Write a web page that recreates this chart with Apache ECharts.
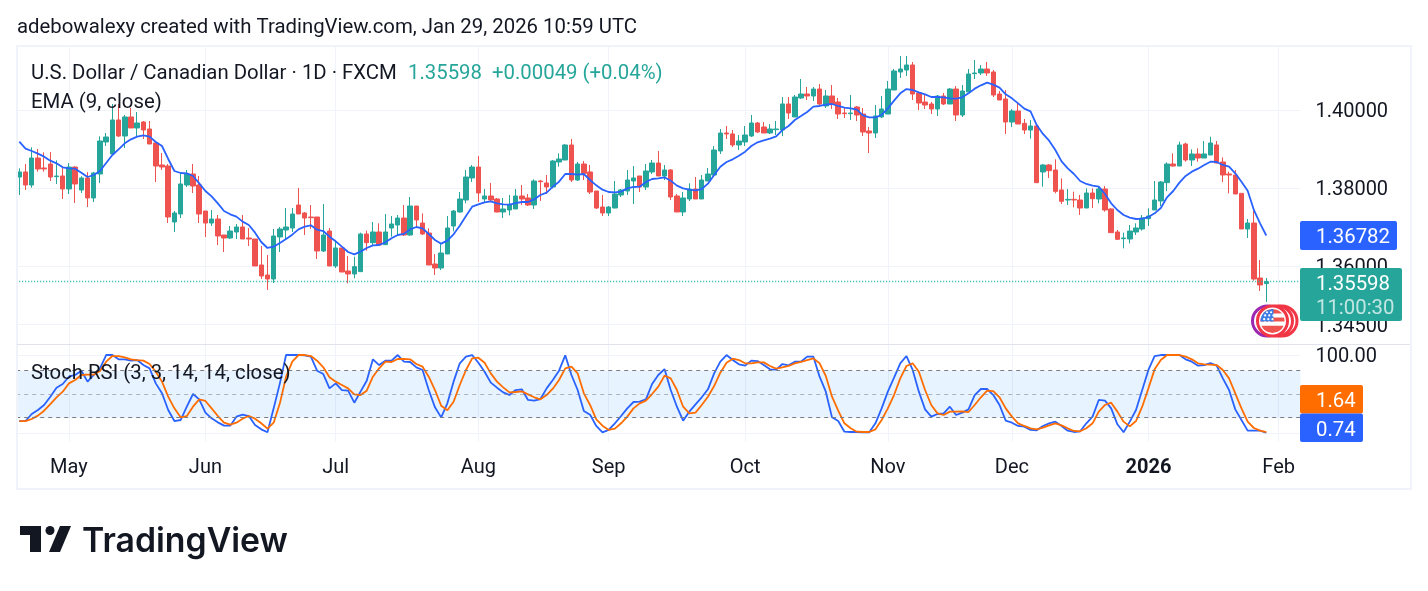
<!DOCTYPE html>
<html>
<head>
<meta charset="utf-8">
<title>USD/CAD daily</title>
<script src="https://cdn.jsdelivr.net/npm/echarts@6/dist/echarts.min.js"></script>
<style>
html,body{margin:0;padding:0;background:#fff}
#chart{width:1428px;height:591px}
</style>
</head>
<body>
<div id="chart"></div>
<script>
// Daily USD/CAD bars: [open, close, low, high]
const ohlc = [
[1.38282,1.38411,1.37820,1.38504],[1.38411,1.38077,1.37949,1.38615],[1.38077,1.38769,1.38008,1.39043],[1.38769,1.38487,1.38419,1.39000],
[1.38513,1.38487,1.38419,1.38914],[1.38615,1.38282,1.38179,1.38923],[1.38291,1.38308,1.38103,1.38709],[1.38308,1.37974,1.37718,1.38555],
[1.37974,1.38538,1.37846,1.38641],[1.38538,1.38103,1.37615,1.38555],[1.37949,1.38257,1.37872,1.38299],[1.38257,1.37744,1.37512,1.38411],
[1.37744,1.38385,1.37641,1.38411],[1.38359,1.39205,1.38129,1.39325],[1.39180,1.39308,1.39077,1.39410],[1.38872,1.39744,1.38846,1.40154],
[1.39744,1.39333,1.39308,1.40154],[1.39333,1.39821,1.39026,1.39872],[1.39821,1.39539,1.39539,1.40051],[1.39539,1.39667,1.39333,1.39949],
[1.39692,1.39487,1.39256,1.39718],[1.39513,1.39128,1.39128,1.39718],[1.39154,1.38564,1.38154,1.39180],[1.38590,1.38538,1.38462,1.38897],
[1.38564,1.37256,1.37102,1.38615],[1.37128,1.37359,1.36872,1.37410],[1.37333,1.38103,1.37230,1.38359],[1.38077,1.38359,1.38026,1.38462],
[1.38359,1.38051,1.37872,1.38615],[1.38077,1.37333,1.37102,1.38308],[1.37410,1.37102,1.36744,1.37410],[1.37102,1.37205,1.37026,1.37436],
[1.37205,1.36769,1.36538,1.37308],[1.36795,1.36718,1.36359,1.36795],[1.36718,1.36897,1.36692,1.37026],[1.36872,1.37000,1.36692,1.37077],
[1.37000,1.36692,1.36692,1.37308],[1.36718,1.36692,1.36513,1.36974],[1.36692,1.36000,1.36000,1.36692],[1.36026,1.35744,1.35667,1.36513],
[1.35769,1.35667,1.35385,1.36282],[1.35667,1.36769,1.35564,1.36949],[1.36744,1.36949,1.36359,1.37000],[1.36923,1.37000,1.36692,1.37487],
[1.36974,1.37333,1.36872,1.37487],[1.37564,1.37333,1.37333,1.38000],[1.37359,1.37230,1.36795,1.37385],[1.37256,1.37239,1.36949,1.37564],
[1.37256,1.36385,1.36179,1.37256],[1.36385,1.36795,1.36359,1.37590],[1.36897,1.36000,1.36000,1.36974],[1.36000,1.36462,1.35949,1.36667],
[1.36462,1.35846,1.35846,1.36462],[1.35872,1.35795,1.35556,1.36256],[1.35795,1.35983,1.35684,1.36239],[1.35855,1.36821,1.35855,1.36855],
[1.36821,1.36598,1.36393,1.36906],[1.36598,1.36872,1.36538,1.37128],[1.36872,1.36538,1.36538,1.37094],[1.36547,1.36872,1.36538,1.37333],
[1.36974,1.37077,1.36752,1.37282],[1.37051,1.37230,1.36795,1.37308],[1.37230,1.36795,1.36769,1.37564],[1.36795,1.37538,1.36769,1.37769],
[1.37538,1.37179,1.36991,1.37538],[1.37102,1.36821,1.36795,1.37350],[1.36846,1.36026,1.36026,1.36966],[1.36051,1.35949,1.35769,1.36308],
[1.35949,1.36333,1.35897,1.36564],[1.36308,1.36974,1.36308,1.37282],[1.37026,1.37410,1.36889,1.37436],[1.37385,1.37718,1.37368,1.37897],
[1.37692,1.38282,1.37607,1.38462],[1.38257,1.38538,1.38154,1.38590],[1.38538,1.37872,1.37641,1.38821],[1.37718,1.37795,1.37641,1.37974],
[1.37795,1.37692,1.37641,1.38129],[1.37718,1.37385,1.37376,1.37744],[1.37385,1.37462,1.37230,1.37744],[1.37436,1.37564,1.37299,1.37821],
[1.37462,1.37795,1.37462,1.37974],[1.37795,1.37718,1.37564,1.38077],[1.37744,1.37564,1.37538,1.37846],[1.37564,1.38179,1.37462,1.38222],
[1.38179,1.38162,1.37667,1.38205],[1.38129,1.38026,1.37846,1.38333],[1.38026,1.38692,1.37991,1.38718],[1.38667,1.38744,1.38547,1.38889],
[1.38718,1.39103,1.38718,1.39128],[1.39103,1.38205,1.38154,1.39256],[1.38205,1.38615,1.38179,1.38667],[1.38615,1.38376,1.38205,1.38692],
[1.38411,1.37897,1.37846,1.38590],[1.37923,1.37487,1.37462,1.37923],[1.37512,1.37359,1.37282,1.37821],[1.37359,1.37512,1.37282,1.37538],
[1.37487,1.37846,1.37479,1.38179],[1.37821,1.37949,1.37769,1.37974],[1.37923,1.38205,1.37821,1.38462],[1.38179,1.38257,1.37590,1.38564],
[1.38308,1.38026,1.37897,1.38308],[1.38026,1.38436,1.37949,1.38615],[1.38411,1.38641,1.38359,1.38718],[1.38641,1.38308,1.38308,1.38949],
[1.38308,1.38462,1.38205,1.38590],[1.38462,1.37769,1.37692,1.38487],[1.37795,1.37385,1.37385,1.37846],[1.37385,1.37744,1.37282,1.37897],
[1.37718,1.37974,1.37667,1.38120],[1.37974,1.37718,1.37718,1.38282],[1.37718,1.38205,1.37718,1.38333],[1.38179,1.38359,1.38179,1.38513],
[1.38333,1.38974,1.38333,1.39077],[1.38949,1.39410,1.38872,1.39513],[1.39410,1.39385,1.39256,1.39590],[1.39385,1.39103,1.39051,1.39487],
[1.39103,1.39205,1.38974,1.39359],[1.39180,1.39359,1.39077,1.39590],[1.39333,1.39667,1.39308,1.39872],[1.39667,1.39436,1.39410,1.39692],
[1.39564,1.39410,1.39410,1.39692],[1.39410,1.39513,1.39385,1.39641],[1.39496,1.39513,1.39359,1.39718],[1.39487,1.40154,1.39333,1.40333],
[1.40154,1.39923,1.39769,1.40333],[1.39821,1.40333,1.39821,1.40385],[1.40308,1.40410,1.40282,1.40795],[1.40410,1.40359,1.40256,1.40590],
[1.40359,1.40538,1.40231,1.40590],[1.40538,1.40154,1.40103,1.40667],[1.40103,1.40359,1.40051,1.40513],[1.40359,1.40154,1.40026,1.40641],
[1.40205,1.39897,1.39769,1.40308],[1.39923,1.39906,1.39795,1.40051],[1.39906,1.39923,1.39744,1.40385],[1.40077,1.39872,1.39718,1.40103],
[1.39897,1.39436,1.39333,1.40051],[1.39462,1.39410,1.38897,1.39564],[1.39410,1.39846,1.39282,1.40128],[1.39821,1.40026,1.39795,1.40359],
[1.39897,1.40538,1.39897,1.40744],[1.40513,1.41000,1.40513,1.41051],[1.40974,1.41051,1.40821,1.41385],[1.41026,1.41154,1.40872,1.41385],
[1.41154,1.40410,1.40256,1.41231],[1.40436,1.40179,1.40000,1.40462],[1.40205,1.40128,1.40026,1.40385],[1.40154,1.40026,1.39897,1.40205],
[1.40026,1.40359,1.39846,1.40385],[1.40359,1.40154,1.40128,1.40436],[1.40154,1.40538,1.40154,1.40564],[1.40538,1.39872,1.39718,1.40615],
[1.39872,1.40487,1.39821,1.40641],[1.40462,1.40923,1.40462,1.41051],[1.40932,1.40949,1.40795,1.41282],[1.40949,1.41051,1.40897,1.41154],
[1.41051,1.40949,1.40872,1.41231],[1.40974,1.40385,1.40333,1.41026],[1.40410,1.40256,1.40256,1.40487],[1.40282,1.39692,1.39385,1.40513],
[1.39692,1.39974,1.39564,1.40026],[1.39974,1.39641,1.39641,1.40179],[1.39658,1.39487,1.39385,1.39769],[1.39487,1.39590,1.39265,1.39744],
[1.39590,1.38137,1.38137,1.39590],[1.38411,1.38590,1.38034,1.38615],[1.38590,1.38445,1.38257,1.38615],[1.38462,1.37914,1.37863,1.38735],
[1.37949,1.37658,1.37590,1.38248],[1.37692,1.37709,1.37564,1.37974],[1.37709,1.37692,1.37504,1.37906],[1.37692,1.37487,1.37308,1.37821],
[1.37487,1.37872,1.37487,1.37991],[1.37872,1.37726,1.37487,1.37991],[1.37718,1.37974,1.37607,1.38051],[1.37974,1.37436,1.37393,1.38051],
[1.37462,1.36855,1.36855,1.37479],[1.36872,1.36684,1.36667,1.36923],[1.36701,1.36718,1.36453,1.36855],[1.36692,1.36897,1.36581,1.37051],
[1.36872,1.36974,1.36795,1.37094],[1.36949,1.37230,1.36906,1.37308],[1.37213,1.37282,1.37026,1.37479],[1.37436,1.37692,1.37436,1.38179],
[1.37667,1.38154,1.37538,1.38179],[1.38137,1.38615,1.37923,1.38658],[1.38615,1.38564,1.38547,1.38889],[1.38564,1.39103,1.38564,1.39188],
[1.39128,1.38718,1.38675,1.39162],[1.38718,1.38872,1.38564,1.38991],[1.38872,1.38769,1.38675,1.39017],[1.38769,1.38872,1.38769,1.39205],
[1.38846,1.39154,1.38846,1.39316],[1.39103,1.38641,1.38632,1.39205],[1.38667,1.38333,1.38154,1.38786],[1.38359,1.38333,1.37863,1.38419],
[1.38333,1.37846,1.37846,1.38462],[1.37863,1.36949,1.36949,1.37863],[1.36949,1.37102,1.36718,1.37205],[1.37102,1.35667,1.35624,1.37410],
[1.35692,1.35513,1.35359,1.36154],[1.35549,1.35598,1.35077,1.35692]
];

// EMA (9, close)
const ema9 = [
1.39188,1.39009,1.38949,1.38880,1.38803,1.38701,1.38632,1.38530,1.38504,1.38496,1.38393,1.38282,1.38333,1.38436,1.38641,1.38846,1.38992,1.39145,
1.39248,1.39316,1.39351,1.39316,1.39180,1.39077,1.38744,1.38436,1.38385,1.38376,1.38308,1.38120,1.37923,1.37786,1.37607,1.37410,1.37325,1.37265,
1.37137,1.37051,1.36855,1.36615,1.36462,1.36496,1.36590,1.36692,1.36803,1.36940,1.37009,1.37043,1.36932,1.36897,1.36752,1.36633,1.36496,1.36359,
1.36299,1.36368,1.36462,1.36530,1.36538,1.36607,1.36710,1.36795,1.36821,1.36940,1.37000,1.36966,1.36821,1.36667,1.36573,1.36650,1.36812,1.37034,
1.37282,1.37521,1.37581,1.37632,1.37658,1.37607,1.37581,1.37573,1.37615,1.37641,1.37641,1.37709,1.37821,1.37880,1.38034,1.38162,1.38359,1.38359,
1.38342,1.38359,1.38205,1.38068,1.37957,1.37897,1.37889,1.37906,1.37991,1.38026,1.38034,1.38154,1.38231,1.38248,1.38274,1.38188,1.38060,1.37991,
1.37957,1.37940,1.37974,1.38111,1.38333,1.38547,1.38667,1.38735,1.38829,1.38932,1.39077,1.39171,1.39222,1.39265,1.39325,1.39487,1.39590,1.39744,
1.39846,1.39949,1.40085,1.40103,1.40137,1.40154,1.40103,1.40060,1.40043,1.40009,1.39863,1.39812,1.39812,1.39872,1.40043,1.40239,1.40427,1.40538,
1.40513,1.40453,1.40402,1.40333,1.40333,1.40325,1.40299,1.40291,1.40325,1.40427,1.40547,1.40633,1.40701,1.40650,1.40573,1.40402,1.40299,1.40171,
1.40034,1.39966,
1.39615,1.39385,1.39214,1.38974,1.38684,1.38504,1.38359,1.38179,1.38103,1.38060,1.38034,1.37846,1.37607,1.37436,1.37308,1.37239,1.37205,1.37214,
1.37256,1.37350,1.37487,1.37761,1.37923,1.38137,1.38308,1.38419,1.38496,1.38590,1.38675,1.38667,1.38590,1.38547,1.38376,1.38162,1.37932,1.37436,
1.37094,1.36782
];

// Stoch RSI (3, 3, 14, 14): %K
const stochK = [
15.7,15.7,24.7,29.8,36.2,46.8,58.3,63.0,72.3,74.5,80.0,66.0,74.5,83.0,100,100,94.5,94.5,92.8,93.6,
87.2,83.0,63.8,51.1,29.8,15.7,17.0,34.0,50.2,43.4,26.4,19.1,14.0,9.8,9.8,21.3,23.8,22.1,10.6,5.1,
1.3,31.9,63.8,100,100,100,99.6,97.9,80.0,75.7,57.4,63.8,55.3,54.5,39.1,53.2,67.2,94.5,87.2,92.8,
92.8,100,91.5,91.1,84.3,80.9,55.3,33.2,20.4,38.3,66.0,89.4,97.9,100,
90.2,78.7,64.7,58.3,52.3,48.9,55.3,56.2,42.6,41.7,43.8,57.4,68.1,80.0,99.6,74.5,55.3,28.5,23.8,9.4,
1.3,4.3,12.8,22.1,31.9,40.0,40.4,43.4,63.0,74.5,82.1,55.3,34.0,16.2,27.7,37.0,46.0,56.2,76.6,91.5,
100,93.6,88.1,86.4,92.8,92.3,87.2,81.7,81.3,88.5,86.8,91.5,91.5,97.9,97.9,72.3,53.2,20.4,15.7,2.1,
1.7,1.7,1.3,1.3,12.8,31.9,53.2,71.1,89.4,98.7,80.9,53.2,30.6,21.3,24.7,25.5,34.0,
23.4,26.4,30.6,48.9,56.6,56.6,48.9,36.2,16.2,13.6,9.4,8.5,4.3,3.8,9.4,12.8,14.9,9.4,3.4,1.7,
2.6,12.8,21.3,42.6,41.7,31.9,11.5,1.3,14.9,29.8,55.3,80.9,98.7,100,100,100,100,94.5,91.5,86.4,
87.2,89.8,86.4,70.2,55.3,30.6,17.0,3.4,3.4,3.4,0.74
];

// Stoch RSI (3, 3, 14, 14): %D
const stochD = [
15.7,15.7,18.3,22.6,28.9,37.4,46.0,53.2,63.8,68.1,74.5,74.9,74.9,79.6,91.5,98.7,98.7,97.0,94.5,93.6,
92.8,88.5,78.7,66.0,46.8,31.9,20.4,22.1,34.0,43.4,41.3,31.9,22.1,13.6,11.1,13.6,18.7,22.1,18.7,12.8,
6.0,13.6,38.3,72.3,91.5,100,100,98.7,92.8,84.3,71.5,66.0,61.7,57.4,49.8,48.9,54.5,72.3,83.0,91.5,
91.1,94.9,94.9,94.5,88.5,85.1,72.3,55.3,35.3,29.4,40.4,61.7,80.9,95.7,
96.6,90.2,76.6,66.0,58.7,52.3,52.8,53.6,49.8,46.0,43.4,48.9,57.0,68.1,83.0,85.1,76.6,51.1,36.2,17.9,
9.8,4.3,6.0,12.8,21.3,31.9,38.3,41.7,50.2,59.6,73.6,70.2,55.3,34.0,25.5,26.4,36.2,46.8,60.4,77.4,
90.2,95.3,93.6,89.4,89.4,90.6,90.6,86.0,82.6,84.3,86.0,89.4,91.1,93.6,95.7,89.4,73.2,46.8,28.9,12.8,
6.4,2.1,1.7,1.7,5.1,17.0,31.9,48.9,70.2,86.0,89.4,78.7,55.3,36.2,25.5,23.4,27.7,
27.7,28.1,27.2,36.2,46.0,54.5,54.0,46.0,31.9,21.3,12.8,9.4,6.4,5.1,7.2,10.2,12.8,10.2,6.4,3.0,
2.6,6.4,12.8,27.7,36.2,39.1,27.7,14.9,8.9,15.7,34.0,57.4,81.7,93.6,100,100,100,97.9,94.5,89.4,
88.1,87.7,87.2,80.9,70.2,51.1,31.9,14.9,6.8,3.4,1.64
];

const priceTicks = [1.40, 1.38, 1.36, 1.345];
const stochTicks = [100, 0];
const stochBands = [80, 50, 20];
const monthTicks = [
  ['2025-05-01', 'May'], ['2025-06-02', 'Jun'], ['2025-07-01', 'Jul'], ['2025-08-01', 'Aug'],
  ['2025-09-01', 'Sep'], ['2025-10-01', 'Oct'], ['2025-11-03', 'Nov'], ['2025-12-01', 'Dec'],
  ['2026-01-02', '2026'], ['2026-02-02', 'Feb']
];
const closedDays = ['2025-12-25', '2026-01-01'];

// Session dates: weekdays only, running a few days past the last bar
const categories = [];
for (let t = Date.UTC(2025, 3, 21); categories.length < 207; t += 86400000) {
  const d = new Date(t), iso = d.toISOString().slice(0, 10), wd = d.getUTCDay();
  if (wd !== 0 && wd !== 6 && !closedDays.includes(iso)) categories.push(iso);
}
const monthLabel = Object.fromEntries(monthTicks);
const isMonth = (i, name) => name in monthLabel;

const UP = '#26a69a', DOWN = '#ef5350', BLUE = '#2962ff', ORANGE = '#ff6d00';
const INK = '#131722', GRIDLINE = '#f0f3fa', FONT = 'Roboto', SIZE = 20.35;

const lastClose = ohlc[ohlc.length - 1][1];
const change = '+0.00049 (+0.04%)';

const textEl = (x, y, text, fill, size, extra) => ({
  type: 'text', x, y, z: 60,
  style: Object.assign({ text, fill, font: `${size || SIZE}px ${FONT}`, textVerticalAlign: 'middle' }, extra || {})
});
const boxEl = (x, y, w, h, fill) => ({
  type: 'rect', z: 55, shape: { x, y, width: w, height: h, r: 2 }, style: { fill }
});
const circleEl = (cx, cy, r, style, z) => ({ type: 'circle', z: z || 56, shape: { cx, cy, r }, style });

// Small round US flag marking an upcoming event on the time axis
function flagBadge(cx, cy, r) {
  const els = [];
  const chord = (yTop, yBot, fill) => {
    const pts = [];
    const half = y => Math.sqrt(Math.max(0, r * r - y * y));
    for (let k = 0; k <= 6; k++) { const y = yTop + (yBot - yTop) * k / 6; pts.push([cx - half(y), cy + y]); }
    for (let k = 6; k >= 0; k--) { const y = yTop + (yBot - yTop) * k / 6; pts.push([cx + half(y), cy + y]); }
    els.push({ type: 'polygon', z: 58, shape: { points: pts }, style: { fill } });
  };
  els.push(circleEl(cx, cy, r, { fill: '#fff' }, 57));
  chord(-r, -r * 0.62, DOWN);
  chord(-r * 0.3, r * 0.05, DOWN);
  chord(r * 0.4, r, DOWN);
  const cantonTop = -r, cantonBottom = r * 0.05, pts = [];
  const seg = 7;
  for (let k = 0; k <= seg; k++) {
    const y = cantonTop + (cantonBottom - cantonTop) * k / seg;
    pts.push([cx - Math.sqrt(Math.max(0, r * r - y * y)), cy + y]);
  }
  pts.push([cx + 1, cy + cantonBottom], [cx + 1, cy - Math.sqrt(r * r - 1)]);
  els.push({ type: 'polygon', z: 59, shape: { points: pts }, style: { fill: '#3d7fe6' } });
  [[-8, -6], [-3.5, -6], [1, -6], [-9, -2], [-4.5, -2], [0, -2], [-8, 1.5], [-3.5, 1.5], [-6, -9.5], [-1.5, -9.5]].forEach(p =>
    els.push({ type: 'circle', z: 60, shape: { cx: cx + p[0] * r / 13, cy: cy + p[1] * r / 13, r: 1.1 }, style: { fill: '#fff' } }));
  return els;
}

const chart = echarts.init(document.getElementById('chart'), null, { renderer: 'canvas' });

chart.setOption({
  animation: false,
  backgroundColor: '#ffffff',
  textStyle: { fontFamily: FONT },
  grid: [
    { left: 16.2, top: 46, width: 1284.2, height: 298, containLabel: false },
    { left: 16.2, top: 345, width: 1284.2, height: 96.7, containLabel: false }
  ],
  xAxis: [0, 1].map(idx => ({
    type: 'category',
    gridIndex: idx,
    data: categories,
    boundaryGap: true,
    axisLine: { show: false },
    axisTick: { show: false, alignWithLabel: true },
    splitLine: { show: true, alignWithLabel: true, interval: isMonth, lineStyle: { color: GRIDLINE, width: 1 } },
    axisLabel: idx === 1 ? {
      show: true,
      interval: isMonth,
      margin: 16,
      fontFamily: FONT,
      fontSize: 20,
      color: INK,
      hideOverlap: false,
      formatter: name => name.startsWith('2026-01') ? `{b|${monthLabel[name]}}` : monthLabel[name],
      rich: { b: { fontFamily: FONT, fontSize: 20, fontWeight: 'bold', color: INK } }
    } : { show: false }
  })),
  yAxis: [
    {
      type: 'value', gridIndex: 0, position: 'right', min: 1.34, max: 1.41641, scale: true,
      axisLine: { show: false },
      axisTick: { show: false, customValues: priceTicks },
      splitLine: { show: true, lineStyle: { color: GRIDLINE, width: 1 } },
      axisLabel: { customValues: priceTicks, margin: 15, verticalAlign: 'top', lineHeight: 5, fontFamily: FONT, fontSize: 20, color: INK, formatter: v => v.toFixed(5) }
    },
    {
      type: 'value', gridIndex: 1, position: 'right', min: -10.7, max: 112.8,
      axisLine: { show: false },
      axisTick: { show: false, customValues: stochTicks },
      splitLine: { show: true, lineStyle: { color: GRIDLINE, width: 1 } },
      axisLabel: { customValues: [100], margin: 15, verticalAlign: 'top', lineHeight: 3, fontFamily: FONT, fontSize: 20, color: INK, formatter: v => v.toFixed(2) }
    }
  ],
  series: [
    {
      type: 'candlestick', name: 'USDCAD', xAxisIndex: 0, yAxisIndex: 0,
      data: ohlc,
      barWidth: 5,
      itemStyle: { color: UP, color0: DOWN, borderColor: UP, borderColor0: DOWN, borderColorDoji: UP, borderWidth: 1 },
      markLine: {
        silent: true, symbol: 'none', animation: false, precision: 5,
        label: { show: false },
        data: [{ yAxis: lastClose, lineStyle: { color: '#1fb5a6', type: [1, 2], width: 1.3, opacity: 1 } }]
      }
    },
    {
      type: 'line', name: 'EMA', xAxisIndex: 0, yAxisIndex: 0,
      data: ema9, symbol: 'none', smooth: false,
      lineStyle: { color: BLUE, width: 1.8 }
    },
    {
      type: 'line', name: '%K', xAxisIndex: 1, yAxisIndex: 1,
      data: stochK, symbol: 'none',
      lineStyle: { color: BLUE, width: 1.8 },
      z: 3,
      markArea: {
        silent: true, animation: false,
        itemStyle: { color: 'rgba(33,150,243,0.11)' },
        data: [[{ yAxis: stochBands[0] }, { yAxis: stochBands[2] }]]
      },
      markLine: {
        silent: true, symbol: 'none', animation: false,
        label: { show: false },
        data: stochBands.map(v => ({
          yAxis: v,
          lineStyle: { color: v === 50 ? 'rgba(120,123,134,0.55)' : '#787b86', type: [4, 4], width: 1 }
        }))
      }
    },
    {
      type: 'line', name: '%D', xAxisIndex: 1, yAxisIndex: 1,
      data: stochD, symbol: 'none', z: 4,
      lineStyle: { color: ORANGE, width: 1.8 }
    }
  ],
  graphic: { elements: [
    // outer frame and pane separator
    { type: 'rect', z: 40, shape: { x: 17, y: 46, width: 1394, height: 443 }, style: { fill: 'none', stroke: GRIDLINE, lineWidth: 2 } },
    { type: 'line', z: 41, shape: { x1: 17, y1: 344.5, x2: 1410, y2: 344.5 }, style: { stroke: '#e0e3eb', lineWidth: 1 } },
    // header line
    textEl(17, 28, 'adebowalexy created with TradingView.com, Jan 29, 2026 10:59 UTC', INK),
    // legends
    textEl(31, 74, 'U.S. Dollar / Canadian Dollar · 1D · FXCM', INK),
    textEl(408, 74, lastClose.toFixed(5), UP),
    textEl(492, 74, change, UP),
    textEl(31, 103, 'EMA (9, close)', INK),
    textEl(31, 374, 'Stoch RSI (3, 3, 14, 14, close)', INK),
    // right-hand value tags
    boxEl(1300, 221, 97, 29, BLUE),
    textEl(1316, 238, ema9[ema9.length - 1].toFixed(5), '#ffffff'),
    boxEl(1300, 268, 102, 53, UP),
    textEl(1316, 285, lastClose.toFixed(5), '#ffffff'),
    textEl(1316, 309, '11:00:30', 'rgba(255,255,255,0.72)'),
    boxEl(1300, 385, 63, 28.5, ORANGE),
    textEl(1316, 402, stochD[stochD.length - 1].toFixed(2), '#ffffff'),
    boxEl(1300, 413.5, 63, 28.5, BLUE),
    textEl(1316, 431, stochK[stochK.length - 1].toFixed(2), '#ffffff'),
    // event badges stacked over the time axis
    circleEl(1282, 321, 15, { fill: '#fff', stroke: '#f23645', lineWidth: 3 }, 50),
    circleEl(1277.5, 321, 15, { fill: '#fff', stroke: '#f23645', lineWidth: 3 }, 51),
    circleEl(1267.5, 321, 15, { fill: '#fff', stroke: '#9c27b0', lineWidth: 3 }, 52),
    circleEl(1272.5, 321, 15, { fill: '#fff', stroke: '#f23645', lineWidth: 3 }, 53),
    ...flagBadge(1272.5, 321, 12),
    // TradingView wordmark
    { type: 'polygon', z: 60, shape: { points: [[20, 526], [41, 526], [41, 552], [30, 552], [30, 535], [20, 535]] }, style: { fill: INK } },
    { type: 'circle', z: 60, shape: { cx: 50, cy: 530.5, r: 4.5 }, style: { fill: INK } },
    { type: 'polygon', z: 60, shape: { points: [[60, 526], [71, 526], [60, 552], [49, 552]] }, style: { fill: INK } },
    { type: 'text', x: 82, y: 542, z: 60, style: { text: 'TradingView', fill: '#131722', font: '600 33.8px Inter', textVerticalAlign: 'middle' } }
  ] }
});
</script>
</body>
</html>
